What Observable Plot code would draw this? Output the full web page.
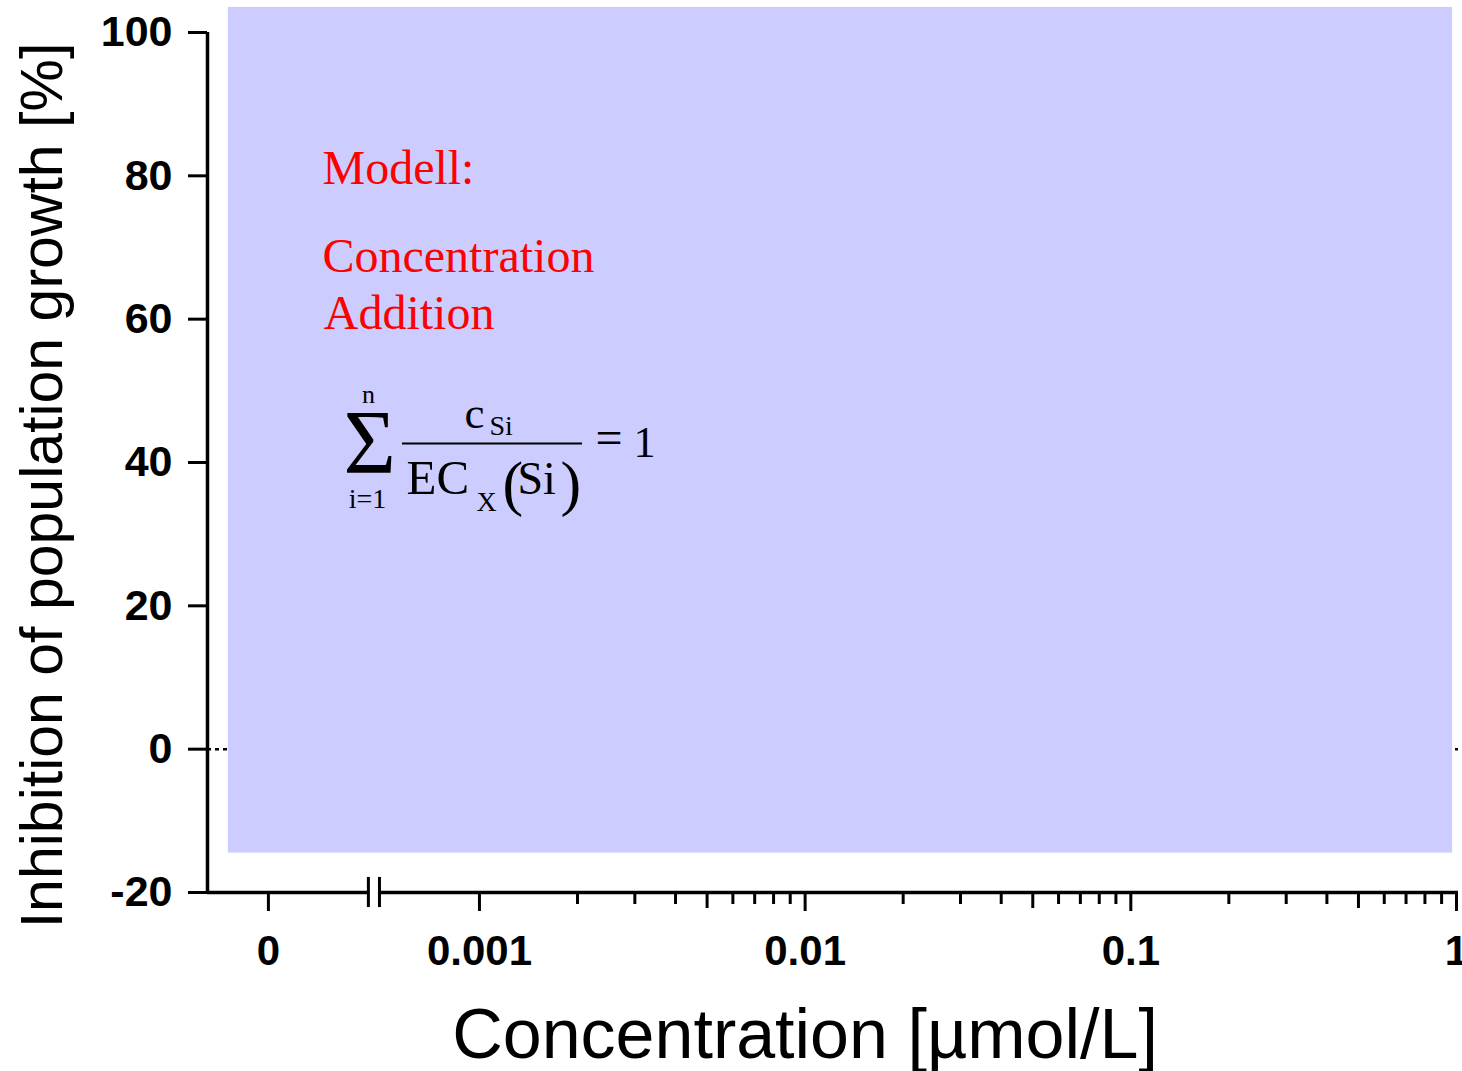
<!DOCTYPE html>
<html>
<head>
<meta charset="utf-8">
<script src="https://cdn.jsdelivr.net/npm/d3@7"></script>
<script src="https://cdn.jsdelivr.net/npm/@observablehq/plot@0.6"></script>
<style>
  html, body { margin: 0; padding: 0; background: #ffffff; }
  #chart { width: 1462px; height: 1071px; overflow: hidden; }
</style>
</head>
<body>
<div id="chart"></div>
<script>
// ---- Data ----
const yTicks = [-20, 0, 20, 40, 60, 80, 100];
const xMajorValues = [0, 0.001, 0.01, 0.1, 1];
const xMajorLabels = ["0", "0.001", "0.01", "0.1", "1"];
const xMidValues = [0.005, 0.05, 0.5];
const xMinorValues = [0.002, 0.003, 0.004, 0.006, 0.007, 0.008, 0.009,
                      0.02, 0.03, 0.04, 0.06, 0.07, 0.08, 0.09,
                      0.2, 0.3, 0.4, 0.6, 0.7, 0.8, 0.9];
const xTitle = "Concentration [µmol/L]";
const yTitle = "Inhibition of population growth [%]";

// broken axis: "0" sits left of the break on the log-decade position scale
const ZERO_POS = -3.648;
const X_MIN = -3.835, X_MAX = 0;
const BREAK_LEFT = -3.341, BREAK_RIGHT = -3.307;
const pos = v => v === 0 ? ZERO_POS : Math.log10(v);

// shaded model area (data units)
const modelArea = [{x1: -3.771, x2: -0.012, y1: -14.5, y2: 103.5}];

// red annotation lines
const redNotes = [
  {text: "Modell:", x: -3.482, y: 78.8},
  {text: "Concentration", x: -3.482, y: 66.65},
  {text: "Addition", x: -3.478, y: 58.56}
];

// formula pieces (left aligned)
const formula = [
  {t: "Σ", x: -3.4174, y: 38.47, s: 90},
  {t: "c", x: -3.0460, y: 44.88, s: 45},
  {t: "Si", x: -2.9692, y: 43.77, s: 28},
  {t: "EC", x: -3.2240, y: 35.67, s: 49},
  {t: "X", x: -3.0091, y: 33.30, s: 28},
  {t: "(", x: -2.9293, y: 34.14, s: 62},
  {t: "Si", x: -2.8832, y: 35.67, s: 46},
  {t: ")", x: -2.7512, y: 34.14, s: 62},
  {t: "=", x: -2.6437, y: 41.25, s: 48},
  {t: "1", x: -2.5270, y: 40.70, s: 44}
];
// formula pieces (centred: summation limits)
const formulaLimits = [
  {t: "n", x: -3.3407, y: 48.37, s: 26},
  {t: "i=1", x: -3.3437, y: 33.60, s: 28}
];
const fractionBar = [{x1: -3.2363, x2: -2.6836, y: 42.65}];

const sans = "'Liberation Sans', Arial, Helvetica, sans-serif";
const serif = "'Liberation Serif', 'Times New Roman', serif";

const chart = Plot.plot({
  width: 1462,
  height: 1071,
  marginLeft: 207,
  marginRight: 6,
  marginTop: 32,
  marginBottom: 179,
  x: {type: "linear", domain: [X_MIN, X_MAX], axis: null},
  y: {type: "linear", domain: [-20, 100], axis: null},
  style: {fontFamily: sans, background: "#ffffff", color: "#000", overflow: "visible"},
  marks: [
    // dotted zero line (behind the shaded area)
    Plot.ruleY([0], {x1: X_MIN, x2: X_MAX + 0.006, stroke: "#000", strokeWidth: 2.5, strokeDasharray: "4,4"}),
    Plot.rect(modelArea, {x1: "x1", x2: "x2", y1: "y1", y2: "y2", fill: "#ccccff"}),
    // y axis line
    Plot.ruleX([X_MIN], {y1: -20, y2: 100, stroke: "#000", strokeWidth: 3.5}),
    Plot.axisY({
      anchor: "left", ticks: yTicks, tickSize: 19, tickPadding: 16,
      fontSize: 43, fontWeight: "bold", strokeWidth: 3, label: null,
      tickFormat: d => String(d)
    }),
    // x axis line with break
    Plot.ruleY([-20], {x1: X_MIN, x2: BREAK_LEFT, stroke: "#000", strokeWidth: 3.5}),
    Plot.ruleY([-20], {x1: BREAK_RIGHT, x2: X_MAX + 0.006, stroke: "#000", strokeWidth: 3.5}),
    Plot.ruleX([BREAK_LEFT, BREAK_RIGHT], {y1: -17.9, y2: -22.1, stroke: "#000", strokeWidth: 3}),
    Plot.axisX({
      anchor: "bottom", ticks: xMajorValues.map(pos), tickSize: 19, tickPadding: 24,
      fontSize: 42, fontWeight: "bold", strokeWidth: 3, label: null,
      tickFormat: (d, i) => xMajorLabels[i]
    }),
    Plot.axisX({
      anchor: "bottom", ticks: xMidValues.map(pos), tickSize: 16,
      strokeWidth: 3, label: null, tickFormat: () => ""
    }),
    Plot.axisX({
      anchor: "bottom", ticks: xMinorValues.map(pos), tickSize: 12,
      strokeWidth: 3, label: null, tickFormat: () => ""
    }),
    // axis titles
    Plot.text([xTitle], {frameAnchor: "bottom", dy: 165, dx: -27, fontSize: 70, fill: "#000", lineAnchor: "bottom", textAnchor: "middle"}),
    Plot.text([yTitle], {frameAnchor: "left", rotate: -90, dx: -164, dy: 23, fontSize: 59, fill: "#000", lineAnchor: "middle", textAnchor: "middle"}),
    // annotations
    Plot.text(redNotes, {x: "x", y: "y", text: "text", fill: "#ff0000", fontFamily: serif, fontSize: 48, textAnchor: "start", lineAnchor: "bottom"}),
    Plot.text(formula, {x: "x", y: "y", text: "t", fontSize: d => d.s, textAnchor: "start", lineAnchor: "bottom", fill: "#000", fontFamily: serif}),
    Plot.text(formulaLimits, {x: "x", y: "y", text: "t", fontSize: d => d.s, textAnchor: "middle", lineAnchor: "bottom", fill: "#000", fontFamily: serif}),
    Plot.ruleY(fractionBar, {x1: "x1", x2: "x2", y: "y", stroke: "#000", strokeWidth: 2})
  ]
});
document.getElementById("chart").appendChild(chart);
</script>
</body>
</html>
